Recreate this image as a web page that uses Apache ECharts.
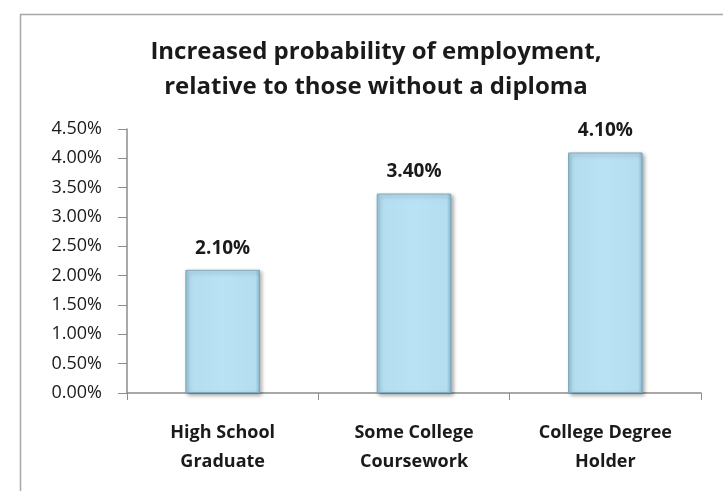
<!DOCTYPE html>
<html style="height: 100%">
	<head>
		<meta charset="utf-8">
	</head>
	<body style="height: 100%; margin: 0; background: #fff">
		<div id="container" style="width: 723px; height: 491px"></div>

		<script type="text/javascript" src="https://cdn.jsdelivr.net/npm/echarts@6/dist/echarts.min.js"></script>

		<script type="text/javascript">
			var categories = ['High School\nGraduate', 'Some College\nCoursework', 'College Degree\nHolder'];
			var values = [2.1, 3.4, 4.1];
			var yMin = 0, yMax = 4.5, yStep = 0.5;

			var dom = document.getElementById("container");
			var myChart = echarts.init(dom);

			var barFill = new echarts.graphic.LinearGradient(0, 0, 1, 0, [
				{ offset: 0, color: '#8FC3D9' },
				{ offset: 0.06, color: '#B4DEF0' },
				{ offset: 0.5, color: '#B9E2F4' },
				{ offset: 0.94, color: '#B4DEF0' },
				{ offset: 1, color: '#86B8CE' }
			]);

			var option = {
				textStyle: { fontFamily: 'Open Sans' },
				graphic: [{
					type: 'rect',
					left: 18, top: 12,
					shape: { width: 800, height: 600 },
					style: { fill: 'none', stroke: '#A6A6A6', lineWidth: 1.5 },
					silent: true
				}],
				title: {
					text: 'Increased probability of employment,\nrelative to those without a diploma',
					left: 371,
					textAlign: 'center',
					top: 30,
					textStyle: { fontSize: 24, fontWeight: 'bold', color: '#1a1a1a', lineHeight: 35, fontFamily: 'Open Sans' }
				},
				grid: { left: 127, right: 22, top: 129, bottom: 98 },
				xAxis: {
					type: 'category',
					data: categories,
					axisLine: { lineStyle: { color: '#8c8c8c', width: 1.5 } },
					axisTick: { show: true, length: 7, lineStyle: { color: '#8c8c8c' } },
					axisLabel: { color: '#1a1a1a', fontSize: 18, fontWeight: 'bold', lineHeight: 29, margin: 25, interval: 0 }
				},
				yAxis: {
					type: 'value',
					min: yMin, max: yMax, interval: yStep,
					splitLine: { show: false },
					axisLine: { show: true, lineStyle: { color: '#8c8c8c', width: 1.5 } },
					axisTick: { show: true, length: 9, lineStyle: { color: '#8c8c8c' } },
					axisLabel: {
						color: '#1a1a1a', fontSize: 18, margin: 25,
						formatter: function (v) { return v.toFixed(2) + '%'; }
					}
				},
				series: [{
					type: 'bar',
					data: values,
					barWidth: '39%',
					itemStyle: {
						color: barFill,
						borderColor: '#7FA9BC',
						borderWidth: 1,
						shadowColor: 'rgba(0,0,0,0.35)',
						shadowBlur: 4,
						shadowOffsetX: 2,
						shadowOffsetY: 2
					},
					label: {
						show: true,
						position: 'top',
						distance: 12,
						color: '#1a1a1a',
						fontSize: 19,
						fontWeight: 'bold',
						fontFamily: 'Open Sans',
						formatter: function (p) { return p.value.toFixed(2) + '%'; }
					}
				}]
			};

			myChart.setOption(option);
		</script>
	</body>
</html>
